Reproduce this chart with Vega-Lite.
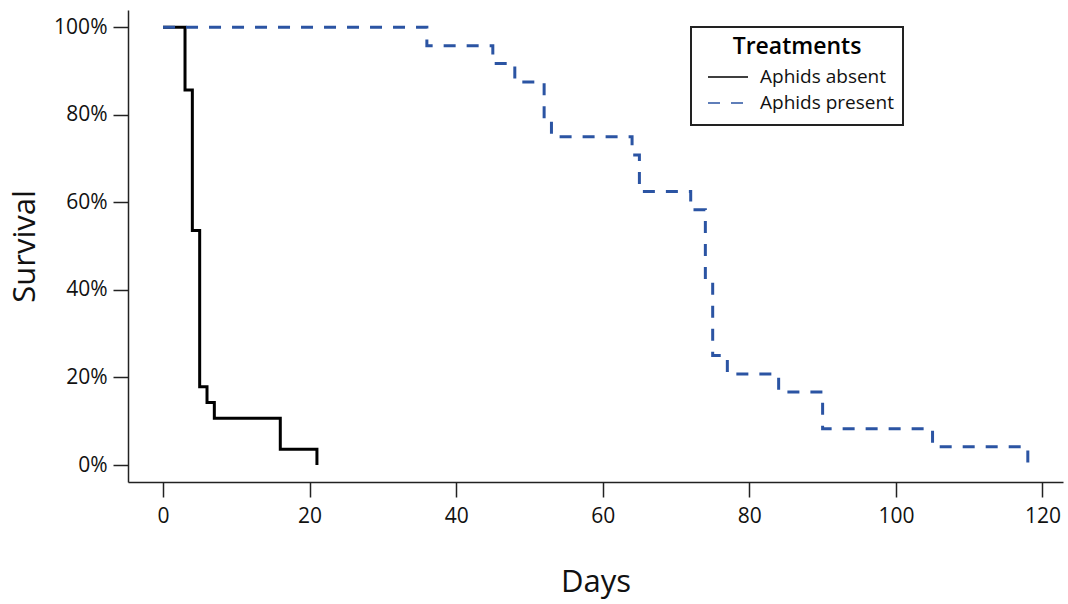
{
  "$schema": "https://vega.github.io/schema/vega-lite/v6.json",
  "width": 935,
  "height": 472,
  "autosize": {"type": "none"},
  "padding": {"left": 128, "top": 10, "right": 5, "bottom": 122},
  "background": "white",
  "config": {
    "font": "Open Sans",
    "view": {"stroke": null},
    "axis": {
      "grid": false,
      "domainColor": "#222222",
      "domainWidth": 1.5,
      "tickColor": "#222222",
      "tickWidth": 1.5,
      "tickSize": 15,
      "labelColor": "#111111",
      "titleColor": "#111111",
      "labelFont": "Open Sans",
      "titleFont": "Open Sans",
      "labelFontSize": 21,
      "titleFontSize": 31,
      "titleFontWeight": "normal"
    }
  },
  "data": {
    "values": [
      {"group": "Aphids absent", "day": 0, "survival": 1.0},
      {"group": "Aphids absent", "day": 3, "survival": 0.857},
      {"group": "Aphids absent", "day": 4, "survival": 0.536},
      {"group": "Aphids absent", "day": 5, "survival": 0.179},
      {"group": "Aphids absent", "day": 6, "survival": 0.143},
      {"group": "Aphids absent", "day": 7, "survival": 0.107},
      {"group": "Aphids absent", "day": 16, "survival": 0.036},
      {"group": "Aphids absent", "day": 21, "survival": 0.0},
      {"group": "Aphids present", "day": 0, "survival": 1.0},
      {"group": "Aphids present", "day": 36, "survival": 0.958},
      {"group": "Aphids present", "day": 45, "survival": 0.917},
      {"group": "Aphids present", "day": 48, "survival": 0.875},
      {"group": "Aphids present", "day": 52, "survival": 0.792},
      {"group": "Aphids present", "day": 53, "survival": 0.75},
      {"group": "Aphids present", "day": 64, "survival": 0.708},
      {"group": "Aphids present", "day": 65, "survival": 0.625},
      {"group": "Aphids present", "day": 72, "survival": 0.583},
      {"group": "Aphids present", "day": 74, "survival": 0.417},
      {"group": "Aphids present", "day": 75, "survival": 0.25},
      {"group": "Aphids present", "day": 77, "survival": 0.208},
      {"group": "Aphids present", "day": 84, "survival": 0.167},
      {"group": "Aphids present", "day": 90, "survival": 0.083},
      {"group": "Aphids present", "day": 105, "survival": 0.042},
      {"group": "Aphids present", "day": 118, "survival": 0.0}
    ]
  },
  "mark": {"type": "line", "interpolate": "step-after", "strokeWidth": 3, "strokeCap": "butt"},
  "encoding": {
    "x": {
      "field": "day",
      "type": "quantitative",
      "title": "Days",
      "scale": {"domain": [-4.78, 122.8], "nice": false, "zero": false},
      "axis": {"values": [0, 20, 40, 60, 80, 100, 120], "labelPadding": 8, "titlePadding": 41}
    },
    "y": {
      "field": "survival",
      "type": "quantitative",
      "title": "Survival",
      "scale": {"domain": [-0.0388, 1.0395], "nice": false, "zero": false},
      "axis": {"values": [0, 0.2, 0.4, 0.6, 0.8, 1.0], "format": ".0%", "labelPadding": 6, "titlePadding": 12}
    },
    "color": {
      "field": "group",
      "type": "nominal",
      "scale": {"domain": ["Aphids absent", "Aphids present"], "range": ["#000000", "#2B54A3"]},
      "legend": {
        "title": "Treatments",
        "orient": "none",
        "legendX": 563,
        "legendY": 17,
        "symbolType": "stroke",
        "symbolSize": 1600,
        "symbolStrokeWidth": 1.6,
        "symbolOffset": 7,
        "clipHeight": 26,
        "titleFontSize": 23,
        "titleFontWeight": 600,
        "titleColor": "#000000",
        "titleAnchor": "middle",
        "titlePadding": 5,
        "labelFontSize": 19,
        "labelColor": "#111111",
        "labelOffset": 11,
        "rowPadding": 0,
        "padding": 9,
        "strokeColor": "#222222",
        "fillColor": "white",
        "encode": {
          "legend": {"update": {"strokeWidth": {"value": 2}}}
        }
      }
    },
    "strokeDash": {
      "field": "group",
      "type": "nominal",
      "scale": {"domain": ["Aphids absent", "Aphids present"], "range": [[1, 0], [12, 11]]},
      "legend": null
    }
  }
}
